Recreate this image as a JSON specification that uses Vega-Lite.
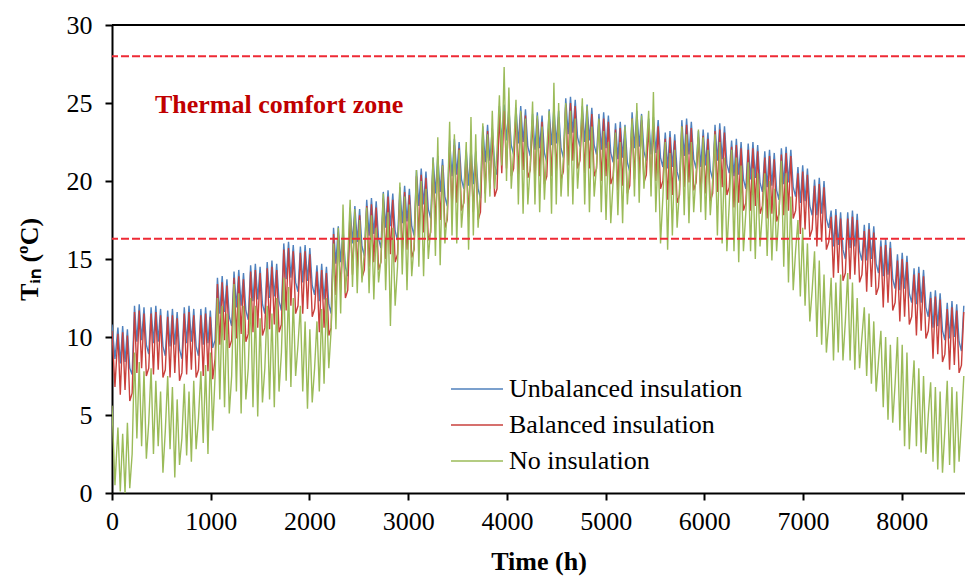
{
"$schema": "https://vega.github.io/schema/vega-lite/v6.json",
"width": 853, "height": 468,
"autosize": {"type": "none"},
"padding": {"left": 112, "top": 25, "right": 0, "bottom": 83},
"config": {
 "view": {"stroke": null},
 "font": "Liberation Serif",
 "axis": {"grid": false, "domainColor": "black", "domainWidth": 2, "tickColor": "black", "tickWidth": 2, "tickSize": 7, "labelColor": "black", "labelFont": "Liberation Serif", "labelFontSize": 26, "titleFont": "Liberation Serif", "titleFontSize": 26, "titleFontWeight": "bold", "titleColor": "black"},
 "legend": {"labelFont": "Liberation Serif", "labelFontSize": 26, "labelColor": "black", "labelLimit": 0}
},
"datasets": {
 "temps": [
{"h":0,"u":10.8,"b":10.4,"n":5.6},{"h":30,"u":8.6,"b":6.8,"n":0.5},
{"h":60,"u":10.6,"b":10.2,"n":4.2},{"h":84,"u":8.3,"b":6.3,"n":0.1},{"h":108,"u":10.7,"b":10.3,"n":3.8},{"h":132,"u":8.4,"b":6.6,"n":0.0},{"h":156,"u":10.5,"b":10.1,"n":4.5},{"h":180,"u":8.0,"b":5.9,"n":0.3},{"h":204,"u":7.6,"b":6.4,"n":2.5},
{"h":228,"u":12.0,"b":11.6,"n":9.0},{"h":252,"u":9.7,"b":7.7,"n":3.5},{"h":276,"u":12.1,"b":11.7,"n":8.4},{"h":300,"u":9.8,"b":8.0,"n":3.0},{"h":324,"u":11.9,"b":11.5,"n":7.8},{"h":348,"u":9.5,"b":7.5,"n":2.2},{"h":372,"u":8.9,"b":8.0,"n":4.5},
{"h":396,"u":11.9,"b":11.5,"n":8.0},{"h":420,"u":9.6,"b":7.6,"n":2.5},{"h":444,"u":12.0,"b":11.6,"n":7.2},{"h":468,"u":9.7,"b":7.9,"n":3.0},{"h":492,"u":11.8,"b":11.4,"n":6.5},{"h":516,"u":9.4,"b":7.4,"n":1.3},{"h":540,"u":8.8,"b":7.9,"n":4.0},
{"h":564,"u":11.7,"b":11.3,"n":7.5},{"h":588,"u":9.4,"b":7.4,"n":2.8},{"h":612,"u":11.8,"b":11.4,"n":6.8},{"h":636,"u":9.5,"b":7.7,"n":1.0},{"h":660,"u":11.6,"b":11.2,"n":6.0},{"h":684,"u":9.2,"b":7.2,"n":1.8},{"h":708,"u":8.6,"b":7.7,"n":3.5},
{"h":732,"u":11.9,"b":11.5,"n":7.0},{"h":756,"u":9.6,"b":7.6,"n":2.4},{"h":780,"u":12.0,"b":11.6,"n":6.5},{"h":804,"u":9.7,"b":7.9,"n":2.0},{"h":828,"u":11.8,"b":11.4,"n":7.2},{"h":852,"u":9.4,"b":7.4,"n":2.8},{"h":876,"u":8.8,"b":7.9,"n":4.8},
{"h":900,"u":11.8,"b":11.4,"n":7.8},{"h":924,"u":9.5,"b":7.5,"n":3.2},{"h":948,"u":11.9,"b":11.5,"n":8.2},{"h":972,"u":9.6,"b":7.8,"n":2.5},{"h":996,"u":11.7,"b":11.3,"n":9.0},{"h":1020,"u":9.3,"b":7.3,"n":4.0},{"h":1044,"u":9.8,"b":8.6,"n":7.5},
{"h":1068,"u":13.8,"b":13.4,"n":12.5},{"h":1092,"u":11.5,"b":9.5,"n":6.0},{"h":1116,"u":13.9,"b":13.5,"n":12.0},{"h":1140,"u":11.6,"b":9.8,"n":5.5},{"h":1164,"u":13.7,"b":13.3,"n":11.5},{"h":1188,"u":11.3,"b":9.3,"n":5.1},{"h":1212,"u":10.7,"b":9.8,"n":7.5},
{"h":1236,"u":14.2,"b":13.8,"n":13.4},{"h":1260,"u":11.9,"b":9.9,"n":6.5},{"h":1284,"u":14.3,"b":13.9,"n":12.8},{"h":1308,"u":12.0,"b":10.2,"n":5.1},{"h":1332,"u":14.1,"b":13.7,"n":12.0},{"h":1356,"u":11.7,"b":9.7,"n":6.0},{"h":1380,"u":11.1,"b":10.2,"n":8.0},
{"h":1404,"u":14.6,"b":14.2,"n":12.5},{"h":1428,"u":12.3,"b":10.3,"n":5.5},{"h":1452,"u":14.7,"b":14.3,"n":12.0},{"h":1476,"u":12.4,"b":10.6,"n":4.9},{"h":1500,"u":14.5,"b":14.1,"n":11.2},{"h":1524,"u":12.1,"b":10.1,"n":5.8},{"h":1548,"u":11.5,"b":10.6,"n":8.0},
{"h":1572,"u":14.8,"b":14.4,"n":12.0},{"h":1596,"u":12.5,"b":10.5,"n":6.0},{"h":1620,"u":14.9,"b":14.5,"n":11.5},{"h":1644,"u":12.6,"b":10.8,"n":5.5},{"h":1668,"u":14.7,"b":14.3,"n":12.5},{"h":1692,"u":12.3,"b":10.3,"n":6.5},{"h":1716,"u":11.7,"b":10.8,"n":9.0},
{"h":1740,"u":16.0,"b":15.6,"n":13.8},{"h":1764,"u":13.7,"b":11.7,"n":7.2},{"h":1788,"u":16.1,"b":15.7,"n":13.2},{"h":1812,"u":13.8,"b":12.0,"n":6.8},{"h":1836,"u":15.9,"b":15.5,"n":12.5},{"h":1860,"u":13.5,"b":11.5,"n":7.5},{"h":1884,"u":12.9,"b":12.0,"n":9.5},
{"h":1908,"u":15.8,"b":15.4,"n":12.0},{"h":1932,"u":13.5,"b":11.5,"n":6.5},{"h":1956,"u":15.9,"b":15.5,"n":11.0},{"h":1980,"u":13.6,"b":11.8,"n":5.4},{"h":2004,"u":15.7,"b":15.3,"n":10.5},{"h":2028,"u":13.3,"b":11.3,"n":5.8},{"h":2052,"u":12.7,"b":11.8,"n":8.0},
{"h":2076,"u":14.6,"b":14.2,"n":11.0},{"h":2100,"u":12.3,"b":10.3,"n":6.5},{"h":2124,"u":14.7,"b":14.3,"n":11.8},{"h":2148,"u":12.4,"b":10.6,"n":7.0},{"h":2172,"u":14.5,"b":14.1,"n":12.5},{"h":2196,"u":12.1,"b":10.1,"n":8.0},{"h":2220,"u":11.5,"b":10.6,"n":10.5},
{"h":2244,"u":17.0,"b":16.6,"n":16.0},{"h":2268,"u":14.7,"b":12.7,"n":10.5},{"h":2292,"u":17.1,"b":16.7,"n":17.0},{"h":2316,"u":14.8,"b":13.0,"n":11.5},{"h":2340,"u":16.9,"b":16.5,"n":18.5},{"h":2364,"u":14.5,"b":12.5,"n":12.8},{"h":2388,"u":13.9,"b":13.0,"n":15.0},
{"h":2412,"u":18.3,"b":17.9,"n":18.8},{"h":2436,"u":16.0,"b":14.0,"n":13.2},{"h":2460,"u":18.4,"b":18.0,"n":18.2},{"h":2484,"u":16.1,"b":14.3,"n":12.8},{"h":2508,"u":18.2,"b":17.8,"n":17.5},{"h":2532,"u":15.8,"b":13.8,"n":13.5},{"h":2556,"u":15.2,"b":14.3,"n":15.5},
{"h":2580,"u":18.8,"b":18.4,"n":18.3},{"h":2604,"u":16.5,"b":14.5,"n":12.8},{"h":2628,"u":18.9,"b":18.5,"n":17.8},{"h":2652,"u":16.6,"b":14.8,"n":12.4},{"h":2676,"u":18.7,"b":18.3,"n":17.0},{"h":2700,"u":16.3,"b":14.3,"n":13.5},{"h":2724,"u":15.7,"b":14.8,"n":15.0},
{"h":2748,"u":19.3,"b":18.9,"n":19.2},{"h":2772,"u":17.0,"b":15.0,"n":13.0},{"h":2796,"u":19.4,"b":19.0,"n":18.0},{"h":2820,"u":17.1,"b":15.3,"n":10.7},{"h":2844,"u":19.2,"b":18.8,"n":17.0},{"h":2868,"u":16.8,"b":14.8,"n":12.0},{"h":2892,"u":16.2,"b":15.3,"n":14.5},
{"h":2916,"u":19.6,"b":19.2,"n":19.9},{"h":2940,"u":17.3,"b":15.3,"n":14.0},{"h":2964,"u":19.7,"b":19.3,"n":19.0},{"h":2988,"u":17.4,"b":15.6,"n":13.0},{"h":3012,"u":19.5,"b":19.1,"n":18.5},{"h":3036,"u":17.1,"b":15.1,"n":13.9},{"h":3060,"u":16.5,"b":15.6,"n":16.0},
{"h":3084,"u":20.7,"b":20.3,"n":20.7},{"h":3108,"u":18.4,"b":16.4,"n":14.5},{"h":3132,"u":20.8,"b":20.4,"n":20.0},{"h":3156,"u":18.5,"b":16.7,"n":13.9},{"h":3180,"u":20.6,"b":20.2,"n":19.5},{"h":3204,"u":18.2,"b":16.2,"n":15.0},{"h":3228,"u":17.6,"b":16.7,"n":17.0},
{"h":3252,"u":21.5,"b":21.1,"n":21.5},{"h":3276,"u":19.2,"b":17.2,"n":15.2},{"h":3300,"u":21.6,"b":21.2,"n":22.8},{"h":3324,"u":19.3,"b":17.5,"n":14.6},{"h":3348,"u":21.4,"b":21.0,"n":21.0},{"h":3372,"u":19.0,"b":17.0,"n":16.0},{"h":3396,"u":18.4,"b":17.5,"n":18.0},
{"h":3420,"u":22.6,"b":22.2,"n":23.8},{"h":3444,"u":20.3,"b":18.3,"n":16.5},{"h":3468,"u":22.7,"b":22.3,"n":23.0},{"h":3492,"u":20.4,"b":18.6,"n":16.0},{"h":3516,"u":22.5,"b":22.1,"n":22.0},{"h":3540,"u":20.1,"b":18.1,"n":17.0},{"h":3564,"u":19.5,"b":18.6,"n":19.0},
{"h":3588,"u":22.0,"b":21.6,"n":22.5},{"h":3612,"u":19.7,"b":17.7,"n":15.6},{"h":3636,"u":22.1,"b":21.7,"n":24.1},{"h":3660,"u":19.8,"b":18.0,"n":16.5},{"h":3684,"u":21.9,"b":21.5,"n":23.0},{"h":3708,"u":19.5,"b":17.5,"n":17.0},{"h":3732,"u":18.9,"b":18.0,"n":19.5},
{"h":3756,"u":23.5,"b":23.1,"n":23.7},{"h":3780,"u":21.2,"b":19.2,"n":18.6},{"h":3804,"u":23.6,"b":23.2,"n":23.0},{"h":3828,"u":21.3,"b":19.5,"n":19.0},{"h":3852,"u":23.4,"b":23.0,"n":24.5},{"h":3876,"u":21.0,"b":19.0,"n":19.5},{"h":3900,"u":20.4,"b":19.5,"n":22.0},
{"h":3924,"u":24.8,"b":24.4,"n":25.5},{"h":3948,"u":22.5,"b":20.5,"n":21.0},{"h":3972,"u":24.9,"b":24.5,"n":27.3},{"h":3996,"u":22.6,"b":20.8,"n":20.0},{"h":4020,"u":24.7,"b":24.3,"n":26.0},{"h":4044,"u":22.3,"b":20.3,"n":19.5},{"h":4068,"u":21.7,"b":20.8,"n":22.0},
{"h":4092,"u":24.7,"b":24.3,"n":25.2},{"h":4116,"u":22.4,"b":20.4,"n":18.5},{"h":4140,"u":24.8,"b":24.4,"n":24.5},{"h":4164,"u":22.5,"b":20.7,"n":17.9},{"h":4188,"u":24.6,"b":24.2,"n":24.0},{"h":4212,"u":22.2,"b":20.2,"n":18.5},{"h":4236,"u":21.6,"b":20.7,"n":21.0},
{"h":4260,"u":24.3,"b":23.9,"n":25.1},{"h":4284,"u":22.0,"b":20.0,"n":18.5},{"h":4308,"u":24.4,"b":24.0,"n":24.2},{"h":4332,"u":22.1,"b":20.3,"n":18.0},{"h":4356,"u":24.2,"b":23.8,"n":23.5},{"h":4380,"u":21.8,"b":19.8,"n":18.8},{"h":4404,"u":21.2,"b":20.3,"n":22.0},
{"h":4428,"u":24.6,"b":24.2,"n":24.5},{"h":4452,"u":22.3,"b":20.3,"n":17.9},{"h":4476,"u":24.7,"b":24.3,"n":26.3},{"h":4500,"u":22.4,"b":20.6,"n":18.5},{"h":4524,"u":24.5,"b":24.1,"n":25.0},{"h":4548,"u":22.1,"b":20.1,"n":19.0},{"h":4572,"u":21.5,"b":20.6,"n":21.5},
{"h":4596,"u":25.3,"b":24.9,"n":25.0},{"h":4620,"u":23.0,"b":21.0,"n":19.0},{"h":4644,"u":25.4,"b":25.0,"n":24.5},{"h":4668,"u":23.1,"b":21.3,"n":18.5},{"h":4692,"u":25.2,"b":24.8,"n":24.0},{"h":4716,"u":22.8,"b":20.8,"n":19.5},{"h":4740,"u":22.2,"b":21.3,"n":22.0},
{"h":4764,"u":24.8,"b":24.4,"n":25.3},{"h":4788,"u":22.5,"b":20.5,"n":18.5},{"h":4812,"u":24.9,"b":24.5,"n":24.8},{"h":4836,"u":22.6,"b":20.8,"n":18.0},{"h":4860,"u":24.7,"b":24.3,"n":23.5},{"h":4884,"u":22.3,"b":20.3,"n":19.0},{"h":4908,"u":21.7,"b":20.8,"n":21.0},
{"h":4932,"u":24.3,"b":23.9,"n":24.0},{"h":4956,"u":22.0,"b":20.0,"n":18.0},{"h":4980,"u":24.4,"b":24.0,"n":23.2},{"h":5004,"u":22.1,"b":20.3,"n":17.5},{"h":5028,"u":24.2,"b":23.8,"n":22.5},{"h":5052,"u":21.8,"b":19.8,"n":17.3},{"h":5076,"u":21.2,"b":20.3,"n":20.0},
{"h":5100,"u":23.7,"b":23.3,"n":23.1},{"h":5124,"u":21.4,"b":19.4,"n":17.8},{"h":5148,"u":23.8,"b":23.4,"n":22.5},{"h":5172,"u":21.5,"b":19.7,"n":17.3},{"h":5196,"u":23.6,"b":23.2,"n":23.5},{"h":5220,"u":21.2,"b":19.2,"n":18.5},{"h":5244,"u":20.6,"b":19.7,"n":21.0},
{"h":5268,"u":24.4,"b":24.0,"n":24.0},{"h":5292,"u":22.1,"b":20.1,"n":19.0},{"h":5316,"u":24.5,"b":24.1,"n":25.0},{"h":5340,"u":22.2,"b":20.4,"n":18.6},{"h":5364,"u":24.3,"b":23.9,"n":24.2},{"h":5388,"u":21.9,"b":19.9,"n":19.5},{"h":5412,"u":21.3,"b":20.4,"n":22.0},
{"h":5436,"u":24.0,"b":23.6,"n":24.5},{"h":5460,"u":21.7,"b":19.7,"n":19.0},{"h":5484,"u":24.1,"b":23.7,"n":25.7},{"h":5508,"u":21.8,"b":20.0,"n":18.0},{"h":5532,"u":23.9,"b":23.5,"n":22.0},{"h":5556,"u":21.5,"b":19.5,"n":16.0},{"h":5580,"u":20.9,"b":20.0,"n":19.0},
{"h":5604,"u":23.1,"b":22.7,"n":22.5},{"h":5628,"u":20.8,"b":18.8,"n":15.6},{"h":5652,"u":23.2,"b":22.8,"n":21.8},{"h":5676,"u":20.9,"b":19.1,"n":16.5},{"h":5700,"u":23.0,"b":22.6,"n":22.0},{"h":5724,"u":20.6,"b":18.6,"n":17.0},{"h":5748,"u":20.0,"b":19.1,"n":19.5},
{"h":5772,"u":23.9,"b":23.5,"n":23.5},{"h":5796,"u":21.6,"b":19.6,"n":17.8},{"h":5820,"u":24.0,"b":23.6,"n":23.0},{"h":5844,"u":21.7,"b":19.9,"n":17.3},{"h":5868,"u":23.8,"b":23.4,"n":22.5},{"h":5892,"u":21.4,"b":19.4,"n":18.0},{"h":5916,"u":20.8,"b":19.9,"n":20.5},
{"h":5940,"u":23.2,"b":22.8,"n":23.3},{"h":5964,"u":20.9,"b":18.9,"n":18.0},{"h":5988,"u":23.3,"b":22.9,"n":22.8},{"h":6012,"u":21.0,"b":19.2,"n":17.5},{"h":6036,"u":23.1,"b":22.7,"n":22.0},{"h":6060,"u":20.7,"b":18.7,"n":17.8},{"h":6084,"u":20.1,"b":19.2,"n":20.0},
{"h":6108,"u":23.6,"b":23.2,"n":23.0},{"h":6132,"u":21.3,"b":19.3,"n":16.5},{"h":6156,"u":23.7,"b":23.3,"n":22.5},{"h":6180,"u":21.4,"b":19.6,"n":16.0},{"h":6204,"u":23.5,"b":23.1,"n":21.5},{"h":6228,"u":21.1,"b":19.1,"n":15.5},{"h":6252,"u":20.5,"b":19.6,"n":18.5},
{"h":6276,"u":22.6,"b":22.2,"n":22.0},{"h":6300,"u":20.3,"b":18.3,"n":15.5},{"h":6324,"u":22.7,"b":22.3,"n":21.5},{"h":6348,"u":20.4,"b":18.6,"n":14.8},{"h":6372,"u":22.5,"b":22.1,"n":21.0},{"h":6396,"u":20.1,"b":18.1,"n":15.5},{"h":6420,"u":19.5,"b":18.6,"n":18.0},
{"h":6444,"u":22.4,"b":22.0,"n":21.2},{"h":6468,"u":20.1,"b":18.1,"n":15.5},{"h":6492,"u":22.5,"b":22.1,"n":20.8},{"h":6516,"u":20.2,"b":18.4,"n":15.0},{"h":6540,"u":22.3,"b":21.9,"n":20.5},{"h":6564,"u":19.9,"b":17.9,"n":15.8},{"h":6588,"u":19.3,"b":18.4,"n":18.0},
{"h":6612,"u":21.9,"b":21.5,"n":20.5},{"h":6636,"u":19.6,"b":17.6,"n":15.2},{"h":6660,"u":22.0,"b":21.6,"n":20.0},{"h":6684,"u":19.7,"b":17.9,"n":14.9},{"h":6708,"u":21.8,"b":21.4,"n":19.5},{"h":6732,"u":19.4,"b":17.4,"n":15.5},{"h":6756,"u":18.8,"b":17.9,"n":18.0},
{"h":6780,"u":22.1,"b":21.7,"n":21.3},{"h":6804,"u":19.8,"b":17.8,"n":14.5},{"h":6828,"u":22.2,"b":21.8,"n":20.5},{"h":6852,"u":19.9,"b":18.1,"n":13.5},{"h":6876,"u":22.0,"b":21.6,"n":19.0},{"h":6900,"u":19.6,"b":17.6,"n":13.0},{"h":6924,"u":19.0,"b":18.1,"n":15.5},
{"h":6948,"u":20.9,"b":20.5,"n":17.5},{"h":6972,"u":18.6,"b":16.6,"n":12.6},{"h":6996,"u":21.0,"b":20.6,"n":17.0},{"h":7020,"u":18.7,"b":16.9,"n":12.0},{"h":7044,"u":20.8,"b":20.4,"n":16.0},{"h":7068,"u":18.4,"b":16.4,"n":11.0},{"h":7092,"u":17.8,"b":16.9,"n":13.0},
{"h":7116,"u":20.1,"b":19.7,"n":15.5},{"h":7140,"u":17.8,"b":15.8,"n":10.0},{"h":7164,"u":20.2,"b":19.8,"n":14.9},{"h":7188,"u":17.9,"b":16.1,"n":9.5},{"h":7212,"u":20.0,"b":19.6,"n":14.0},{"h":7236,"u":17.6,"b":15.6,"n":9.0},{"h":7260,"u":17.0,"b":16.1,"n":11.0},
{"h":7284,"u":18.1,"b":17.7,"n":13.8},{"h":7308,"u":15.8,"b":13.8,"n":8.5},{"h":7332,"u":18.2,"b":17.8,"n":13.5},{"h":7356,"u":15.9,"b":14.1,"n":9.0},{"h":7380,"u":18.0,"b":17.6,"n":14.0},{"h":7404,"u":15.6,"b":13.6,"n":8.5},{"h":7428,"u":15.0,"b":14.1,"n":11.0},
{"h":7452,"u":18.0,"b":17.6,"n":14.1},{"h":7476,"u":15.7,"b":13.7,"n":8.5},{"h":7500,"u":18.1,"b":17.7,"n":13.5},{"h":7524,"u":15.8,"b":14.0,"n":7.9},{"h":7548,"u":17.9,"b":17.5,"n":12.5},{"h":7572,"u":15.5,"b":13.5,"n":8.0},{"h":7596,"u":14.9,"b":14.0,"n":10.0},
{"h":7620,"u":17.2,"b":16.8,"n":11.9},{"h":7644,"u":14.9,"b":12.9,"n":7.5},{"h":7668,"u":17.3,"b":16.9,"n":11.5},{"h":7692,"u":15.0,"b":13.2,"n":7.0},{"h":7716,"u":17.1,"b":16.7,"n":11.0},{"h":7740,"u":14.7,"b":12.7,"n":6.5},{"h":7764,"u":14.1,"b":13.2,"n":8.5},
{"h":7788,"u":16.2,"b":15.8,"n":10.4},{"h":7812,"u":13.9,"b":11.9,"n":5.5},{"h":7836,"u":16.3,"b":15.9,"n":10.0},{"h":7860,"u":14.0,"b":12.2,"n":4.7},{"h":7884,"u":16.1,"b":15.7,"n":9.5},{"h":7908,"u":13.7,"b":11.7,"n":4.5},{"h":7932,"u":13.1,"b":12.2,"n":7.0},
{"h":7956,"u":15.3,"b":14.9,"n":10.0},{"h":7980,"u":13.0,"b":11.0,"n":4.0},{"h":8004,"u":15.4,"b":15.0,"n":9.5},{"h":8028,"u":13.1,"b":11.3,"n":3.0},{"h":8052,"u":15.2,"b":14.8,"n":9.0},{"h":8076,"u":12.8,"b":10.8,"n":2.8},{"h":8100,"u":12.2,"b":11.3,"n":6.0},
{"h":8124,"u":14.4,"b":14.0,"n":8.5},{"h":8148,"u":12.1,"b":10.1,"n":3.0},{"h":8172,"u":14.5,"b":14.1,"n":8.0},{"h":8196,"u":12.2,"b":10.4,"n":2.6},{"h":8220,"u":14.3,"b":13.9,"n":7.5},{"h":8244,"u":11.9,"b":9.9,"n":2.5},{"h":8268,"u":11.3,"b":10.4,"n":5.0},
{"h":8292,"u":12.9,"b":12.5,"n":7.1},{"h":8316,"u":10.6,"b":8.6,"n":2.0},{"h":8340,"u":13.0,"b":12.6,"n":6.8},{"h":8364,"u":10.7,"b":8.9,"n":1.5},{"h":8388,"u":12.8,"b":12.4,"n":6.5},{"h":8412,"u":10.4,"b":8.4,"n":1.3},{"h":8436,"u":9.8,"b":8.9,"n":4.0},
{"h":8460,"u":12.2,"b":11.8,"n":7.2},{"h":8484,"u":9.9,"b":7.9,"n":1.8},{"h":8508,"u":12.3,"b":11.9,"n":6.8},{"h":8532,"u":10.0,"b":8.2,"n":1.3},{"h":8556,"u":12.1,"b":11.7,"n":6.5},{"h":8580,"u":9.7,"b":7.7,"n":2.0},{"h":8604,"u":9.1,"b":8.2,"n":4.5},{"h":8628,"u":12.0,"b":11.6,"n":7.5}
 ],
 "limits": [{"t": 28}, {"t": 16.3}],
 "frame": [{"t": 30}],
 "notes": [{"h": 435, "t": 24.9, "label": "Thermal  comfort zone"}]
},
"layer": [
 {"data": {"name": "temps"}, "mark": {"type": "line", "strokeWidth": 1.4, "clip": true},
  "encoding": {
   "x": {"field": "h", "type": "quantitative", "title": "Time (h)", "scale": {"domain": [0, 8640], "nice": false},
         "axis": {"values": [0,1000,2000,3000,4000,5000,6000,7000,8000], "format": "d", "labelPadding": 8, "titlePadding": 14, "labelFlush": false}},
   "y": {"field": "u", "type": "quantitative", "title": "Tᵢₙ (ºC)", "scale": {"domain": [0, 30], "nice": false},
         "axis": {"values": [0,5,10,15,20,25,30], "labelPadding": 13, "titlePadding": 24}},
   "color": {"datum": "Unbalanced insulation", "type": "nominal",
     "scale": {"domain": ["Unbalanced insulation", "Balanced insulation", "No insulation"], "range": ["#4f81bd", "#c9403c", "#9bbb59"]},
     "legend": {"title": null, "orient": "none", "legendX": 351, "legendY": 350, "symbolType": "M-2,0H2", "symbolSize": 676, "symbolStrokeWidth": 1.5, "labelOffset": 18, "rowPadding": 9, "padding": 0, "labelLimit": 0}}
  }},
 {"data": {"name": "temps"}, "mark": {"type": "line", "strokeWidth": 1.4, "clip": true},
  "encoding": {
   "x": {"field": "h", "type": "quantitative", "title": "Time (h)"},
   "y": {"field": "b", "type": "quantitative", "title": "Tᵢₙ (ºC)"},
   "color": {"datum": "Balanced insulation", "type": "nominal"}
  }},
 {"data": {"name": "temps"}, "mark": {"type": "line", "strokeWidth": 1.4, "clip": true},
  "encoding": {
   "x": {"field": "h", "type": "quantitative", "title": "Time (h)"},
   "y": {"field": "n", "type": "quantitative", "title": "Tᵢₙ (ºC)"},
   "color": {"datum": "No insulation", "type": "nominal"}
  }},
 {"data": {"name": "limits"}, "mark": {"type": "rule", "color": "#ee2a35", "strokeWidth": 2, "strokeDash": [8, 3]},
  "encoding": {"y": {"field": "t", "type": "quantitative", "title": "Tᵢₙ (ºC)"}}},
 {"data": {"name": "frame"}, "mark": {"type": "rule", "color": "black", "strokeWidth": 2},
  "encoding": {"y": {"field": "t", "type": "quantitative", "title": "Tᵢₙ (ºC)"}}},
 {"data": {"name": "notes"}, "mark": {"type": "text", "align": "left", "baseline": "middle", "font": "Liberation Serif", "fontSize": 26, "fontWeight": "bold", "color": "#c00000"},
  "encoding": {
   "x": {"field": "h", "type": "quantitative", "title": "Time (h)"},
   "y": {"field": "t", "type": "quantitative", "title": "Tᵢₙ (ºC)"},
   "text": {"field": "label"}
  }}
]
}
